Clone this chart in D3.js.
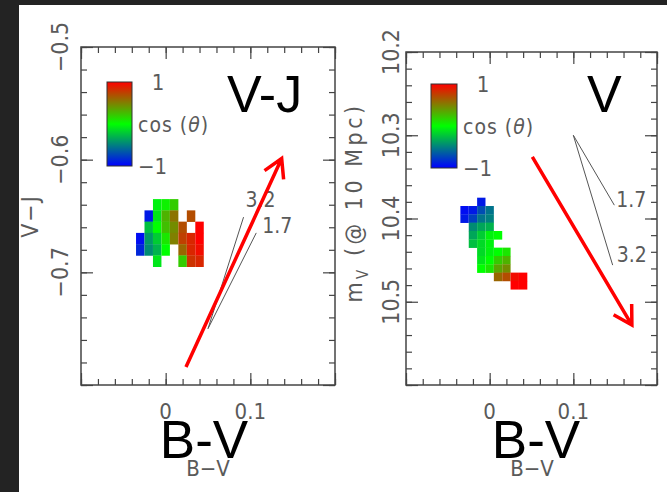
<!DOCTYPE html>
<html>
<head>
<meta charset="utf-8">
<script src="https://cdn.jsdelivr.net/npm/d3@7"></script>
<style>
  html, body { margin: 0; padding: 0; background: #232323; }
  svg { display: block; }
  .pg { font-family: 'DejaVu Sans', sans-serif; font-stretch: condensed; fill: #5a5a5a; }
  .big { font-family: 'Liberation Sans', Arial, sans-serif; fill: #000; }
</style>
</head>
<body>
<svg id="chart" width="667" height="492"></svg>
<script>
// B-V bins (shared by both panels) and labelled ticks
const bvCols = [-0.03, -0.02, -0.01, 0, 0.01, 0.02, 0.03, 0.04];
const bvLabels = [0, 0.1];

// V-J panel: rows of V-J bins, cos(theta) per cell (null = empty)
const vjRows = [-0.64, -0.65, -0.66, -0.67, -0.68, -0.69];
const vjCos = [
  [null, null, -0.05, 0.05, 0.2, null, null, null],
  [null, -0.9, -0.1, 0.3, 0.55, null, 0.7, null],
  [null, -0.25, 0.0, 0.25, 0.45, 0.7, null, 1.0],
  [-0.95, -0.4, -0.2, 0.1, 0.5, 0.75, 0.85, 1.0],
  [-0.85, -0.45, -0.3, 0.0, null, 0.6, 0.85, 0.95],
  [null, null, -0.1, null, null, 0.2, 0.8, 0.85]
];
const vjLabels = [-0.5, -0.6, -0.7];

// V panel: rows of m_V bins
const mvRows = [10.38, 10.39, 10.40, 10.41, 10.42, 10.43, 10.44, 10.45, 10.46, 10.47, 10.48];
const mvCos = [
  [null, null, -0.9, null, null, null, null, null],
  [-0.95, -0.9, -0.7, -0.55, null, null, null, null],
  [-0.9, -0.75, -0.55, -0.5, null, null, null, null],
  [null, -0.45, -0.35, -0.3, null, null, null, null],
  [null, -0.35, -0.2, -0.05, 0.0, null, null, null],
  [null, -0.25, -0.15, -0.05, null, null, null, null],
  [null, null, -0.15, -0.05, 0.0, 0.1, null, null],
  [null, null, -0.1, 0.0, 0.2, 0.3, null, null],
  [null, null, 0.0, 0.1, 0.35, 0.45, null, null],
  [null, null, null, null, 0.6, 0.7, 0.95, 1.0],
  [null, null, null, null, null, null, 1.0, 1.0]
];
const mvLabels = [10.2, 10.3, 10.4, 10.5];

// red arrows [tail, tip]
const vjArrow = [[0.024, -0.784], [0.137, -0.599]];
const mvArrow = [[0.051, 10.326], [0.170, 10.528]];

// reddening vectors for two R_V values
const rvNames = ['3.2', '1.7'];
const vjRedStart = [0.05, -0.75];
const vjRedEnds = [[0.092, -0.651], [0.107, -0.665]];
const mvRedStart = [0.1, 10.3];
const mvRedEnds = [[0.147, 10.456], [0.149, 10.384]];

const cbarLabels = [1, -1];

const svg = d3.select('#chart');
svg.append('rect').attr('x', 19).attr('y', 5).attr('width', 648).attr('height', 487).attr('fill', '#fff');

const cosColor = c => d3.rgb(255 * Math.max(c, 0), 255 * (1 - Math.abs(c)), 255 * Math.max(-c, 0));

const panels = [
  {
    id: 'vj', box: [81, 47, 335, 385], yDomain: [-0.8, -0.5], invert: false,
    rows: vjRows, cos: vjCos, yLabels: vjLabels, yFmt: d => d3.format('.1f')(d).replace('-', '\u2212'),
    yTitle: 'V\u2212J', titleX: 38, labelX: 68, bigX: 227, bigText: 'V-J',
    arrow: vjArrow, redStart: vjRedStart, redEnds: vjRedEnds, redOff: [[2, -10], [6, 0]],
    cbar: [107, 82, 25, 84], xTitleX: 208, bvX: 204
  },
  {
    id: 'mv', box: [406, 52, 657, 385], yDomain: [10.2, 10.6], invert: true,
    rows: mvRows, cos: mvCos, yLabels: mvLabels, yFmt: d3.format('.1f'),
    yTitle: null, titleX: 362, labelX: 399, bigX: 587, bigText: 'V',
    arrow: mvArrow, redStart: mvRedStart, redEnds: mvRedEnds, redOff: [[4, -3], [2, 2]],
    cbar: [431, 84, 26, 84], xTitleX: 532, bvX: 536
  }
];

panels.forEach(p => {
  const [x0, y0, x1, y1] = p.box;
  const x = d3.scaleLinear().domain([-0.1, 0.2]).range([x0, x1]);
  const y = d3.scaleLinear().domain(p.yDomain).range(p.invert ? [y0, y1] : [y1, y0]);
  const g = svg.append('g');

  // cells
  const cells = [];
  p.rows.forEach((r, i) => bvCols.forEach((c, j) => {
    if (p.cos[i][j] !== null) cells.push({ bv: c, yv: r, c: p.cos[i][j] });
  }));
  g.selectAll('rect.cell').data(cells).enter().append('rect')
    .attr('class', 'cell')
    .attr('x', d => x(d.bv - 0.005))
    .attr('width', d => x(d.bv + 0.005) - x(d.bv - 0.005))
    .attr('y', d => Math.min(y(d.yv - 0.005), y(d.yv + 0.005)))
    .attr('height', d => Math.abs(y(d.yv + 0.005) - y(d.yv - 0.005)) + 0.3)
    .attr('fill', d => cosColor(d.c));

  // ticks (inside on all four sides)
  const xMinor = d3.range(-0.1, 0.2001, 0.02);
  const xMajor = [-0.1, 0, 0.1, 0.2];
  const yMinor = d3.range(p.yDomain[0], p.yDomain[1] + 0.0001, 0.02);
  const yMajor = d3.range(p.yDomain[0], p.yDomain[1] + 0.0001, 0.1);
  const tickGroup = (axis, tx, ty) => g.append('g')
    .attr('transform', `translate(${tx},${ty})`)
    .call(axis)
    .call(a => a.select('.domain').remove())
    .call(a => a.selectAll('line').attr('stroke', '#444').attr('stroke-width', 1.2));
  [[xMinor, 6], [xMajor, 12]].forEach(([v, s]) => {
    tickGroup(d3.axisBottom(x).tickValues(v).tickSize(-s).tickFormat(''), 0, y1);
    tickGroup(d3.axisTop(x).tickValues(v).tickSize(-s).tickFormat(''), 0, y0);
  });
  [[yMinor, 6], [yMajor, 12]].forEach(([v, s]) => {
    tickGroup(d3.axisLeft(y).tickValues(v).tickSize(-s).tickFormat(''), x0, 0);
    tickGroup(d3.axisRight(y).tickValues(v).tickSize(-s).tickFormat(''), x1, 0);
  });

  g.append('rect').attr('x', x0).attr('y', y0).attr('width', x1 - x0).attr('height', y1 - y0)
    .attr('fill', 'none').attr('stroke', '#444').attr('stroke-width', 1.5);

  // tick labels
  g.selectAll('text.xl').data(bvLabels).enter().append('text')
    .attr('class', 'pg').attr('x', d => x(d)).attr('y', 419)
    .attr('text-anchor', 'middle').style('font-size', '22px')
    .text(d => d === 0 ? '0' : d3.format('.1f')(d));
  g.selectAll('text.yl').data(p.yLabels).enter().append('text')
    .attr('class', 'pg')
    .attr('transform', d => `translate(${p.labelX},${y(d)}) rotate(-90)`)
    .attr('text-anchor', 'middle').style('font-size', '23px')
    .text(p.yFmt);

  // axis titles
  g.append('text').attr('class', 'pg').attr('x', p.xTitleX).attr('y', 476)
    .attr('text-anchor', 'middle').style('font-size', '22px').text('B\u2212V');
  const yt = g.append('text').attr('class', 'pg')
    .attr('transform', `translate(${p.titleX},${(y0 + y1) / 2 - (p.yTitle ? 0 : 16)}) rotate(-90)`)
    .attr('text-anchor', 'middle').style('font-size', '23px');
  if (p.yTitle) {
    yt.style('letter-spacing', '2px').text(p.yTitle);
  } else {
    yt.style('letter-spacing', '3.5px');
    yt.append('tspan').text('m');
    yt.append('tspan').attr('dy', 6).style('font-size', '15px').text('V');
    yt.append('tspan').attr('dy', -6).text(' (@ 10 Mpc)');
  }

  // colour bar
  const [cx, cy, cw, ch] = p.cbar;
  const grad = svg.append('defs').append('linearGradient')
    .attr('id', 'grad-' + p.id).attr('x1', 0).attr('x2', 0).attr('y1', 0).attr('y2', 1);
  d3.range(1, -1.001, -0.25).forEach((c, i) => {
    grad.append('stop').attr('offset', (i / 8 * 100) + '%').attr('stop-color', cosColor(c));
  });
  const cb = d3.scaleLinear().domain([1, -1]).range([cy, cy + ch]);
  g.append('rect').attr('x', cx).attr('y', cy).attr('width', cw).attr('height', ch)
    .attr('fill', `url(#grad-${p.id})`).attr('stroke', '#333').attr('stroke-width', 1);
  g.selectAll('text.cbl').data(cbarLabels).enter().append('text')
    .attr('class', 'pg')
    .attr('x', d => d > 0 ? cx + cw + 26 : cx + cw + 6)
    .attr('y', d => cb(d) + 8)
    .attr('text-anchor', d => d > 0 ? 'middle' : 'start')
    .style('font-size', '22px')
    .text(d => d > 0 ? '1' : '\u22121');
  const ct = g.append('text').attr('class', 'pg')
    .attr('x', cx + cw + 6).attr('y', cb(0) + 8).style('font-size', '21px')
    .style('letter-spacing', '1px');
  ct.append('tspan').text('cos  (');
  ct.append('tspan').style('font-style', 'italic').text('\u03b8');
  ct.append('tspan').text(')');

  // reddening vectors
  p.redEnds.forEach((e, i) => {
    g.append('line')
      .attr('x1', x(p.redStart[0])).attr('y1', y(p.redStart[1]))
      .attr('x2', x(e[0])).attr('y2', y(e[1]))
      .attr('stroke', '#555').attr('stroke-width', 1);
    g.append('text').attr('class', 'pg')
      .attr('x', x(e[0]) + p.redOff[i][0]).attr('y', y(e[1]) + p.redOff[i][1])
      .style('font-size', '21px').text(rvNames[i]);
  });

  // red arrow
  const [t0, t1] = p.arrow;
  const ax0 = x(t0[0]), ay0 = y(t0[1]), ax1 = x(t1[0]), ay1 = y(t1[1]);
  const ang = Math.atan2(ay0 - ay1, ax0 - ax1);
  const head = 21, spread = Math.PI / 6;
  const arrowPath = d3.path();
  arrowPath.moveTo(ax0, ay0);
  arrowPath.lineTo(ax1, ay1);
  arrowPath.moveTo(ax1 + head * Math.cos(ang - spread), ay1 + head * Math.sin(ang - spread));
  arrowPath.lineTo(ax1, ay1);
  arrowPath.lineTo(ax1 + head * Math.cos(ang + spread), ay1 + head * Math.sin(ang + spread));
  g.append('path').attr('d', arrowPath.toString())
    .attr('fill', 'none').attr('stroke', '#ff0000').attr('stroke-width', 3.5)
    .attr('stroke-linejoin', 'miter');

  // big overlay labels
  g.append('text').attr('class', 'big').attr('x', p.bigX).attr('y', 112)
    .style('font-size', '52px').text(p.bigText);
  g.append('text').attr('class', 'big').attr('x', p.bvX).attr('y', 458)
    .attr('text-anchor', 'middle').style('font-size', '53px').text('B-V');
});
</script>
</body>
</html>
